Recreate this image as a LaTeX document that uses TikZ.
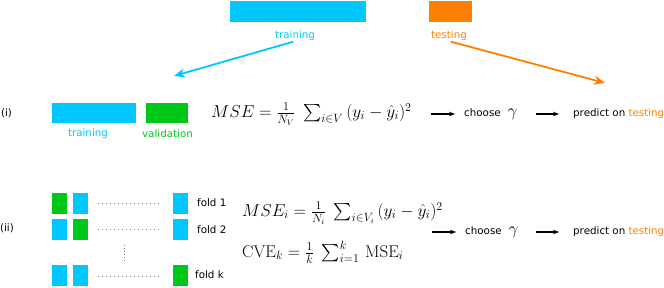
\documentclass[tikz,border=0pt]{standalone}
\usepackage{exscale}
\usepackage{fontspec}
\setsansfont{DejaVu Sans}
\usetikzlibrary{arrows.meta}
\definecolor{cvblue}{RGB}{0,200,255}
\definecolor{cvgreen}{RGB}{0,200,25}
\definecolor{cvorange}{RGB}{255,128,0}
\begin{document}
\begin{tikzpicture}[x=1pt, y=-1pt,
        txt/.style={font=\sffamily\fontsize{10.3}{12}\selectfont, inner sep=0pt},
        bar/.style={rectangle, fill=#1, inner sep=0pt, minimum height=21pt},
        fold/.style={rectangle, fill=#1, inner sep=0pt, minimum width=15pt, minimum height=21pt},
        formula/.style={font=\fontsize{17}{20}\selectfont, inner sep=0pt, anchor=west},
        arrow/.style={-{Stealth[length=6pt, width=4.5pt]}, line width=1.1pt},
        bigarrow/.style={-{Stealth[length=11pt, width=9pt]}, line width=1.8pt, draw=#1},
        dots/.style={gray, line width=0.8pt, dash pattern=on 0.8pt off 3.2pt}
    ]
        \useasboundingbox (0,0) rectangle (664,288);

        % Split into training and testing
        \node[bar=cvblue, minimum width=136pt] (train) at (298,11.5) {};
        \node[bar=cvorange, minimum width=43pt] (test) at (450.5,11.5) {};
        \node[txt, text=cvblue] (trainlbl) at (295,36) {training};
        \node[txt, text=cvorange] (testlbl) at (449,36) {testing};
        \coordinate (trainend) at (174,76);
        \coordinate (testend) at (605,83);
        \draw[bigarrow=cvblue, shorten <=2pt] (trainlbl.south) -- (trainend);
        \draw[bigarrow=cvorange, shorten <=2pt] (testlbl.south) -- (testend);

        % (i) validation set
        \node[txt] (rowi) at (6.5,113) {(i)};
        \node[bar=cvblue, minimum width=84pt, minimum height=20pt] (traini) at (94,113) {};
        \node[bar=cvgreen, minimum width=42pt, minimum height=20pt] (vali) at (167,113) {};
        \node[txt, text=cvblue] (trainilbl) at (88,134) {training};
        \node[txt, text=cvgreen] (valilbl) at (167.5,134) {validation};
        \node[formula] (msei) at (211,114) {$MSE = \frac{1}{N_V}\;\sum_{i\in V}\,(y_i-\hat{y}_i)^2$};
        \node[txt, anchor=west] (choosei) at (464,114) {choose\hspace{7pt}{\fontsize{18}{20}\selectfont$\gamma$}};
        \node[txt, anchor=west] (predi) at (573,114) {predict on \textcolor{cvorange}{testing}};
        \draw[arrow] ([xshift=-33pt]choosei.west) -- ([xshift=-9pt]choosei.west);
        \draw[arrow] ([xshift=-37pt]predi.west) -- ([xshift=-14pt]predi.west);

        % (ii) k-fold cross-validation
        \node[txt] (rowii) at (7,228) {(ii)};
        \node[fold=cvgreen] (fa1) at (59.5,203.5) {};
        \node[fold=cvblue] (fb1) at (80.5,203.5) {};
        \node[fold=cvblue] (fc1) at (180,203.5) {};
        \node[fold=cvblue] (fa2) at (59.5,229.5) {};
        \node[fold=cvgreen] (fb2) at (80.5,229.5) {};
        \node[fold=cvblue] (fc2) at (180,229.5) {};
        \node[fold=cvblue] (fak) at (59.5,276) {};
        \node[fold=cvblue] (fbk) at (80.5,276) {};
        \node[fold=cvgreen] (fck) at (180,276) {};
        \draw[dots, shorten <=10pt, shorten >=14pt] (fb1) -- (fc1);
        \draw[dots, shorten <=10pt, shorten >=14pt] (fb2) -- (fc2);
        \draw[dots, shorten <=10pt, shorten >=14pt] (fbk) -- (fck);
        \draw[dots, dash pattern=on 0.8pt off 2.2pt] (124,245) -- (124,261);
        \node[txt, anchor=west] (fold1) at (197,203) {fold 1};
        \node[txt, anchor=west] (fold2) at (197,229.5) {fold 2};
        \node[txt, anchor=west] (foldk) at (195,275) {fold k};

        \node[formula] (mseii) at (242,213) {$MSE_i = \frac{1}{N_i}\;\sum_{i\in V_i}\,(y_i-\hat{y}_i)^2$};
        \node[formula] (cveii) at (242,252) {$\mathrm{CVE}_k = \frac{1}{k}\;\sum_{i=1}^{k}\,\mathrm{MSE}_i$};
        \node[txt, anchor=west] (chooseii) at (465,232) {choose\hspace{7pt}{\fontsize{18}{20}\selectfont$\gamma$}};
        \node[txt, anchor=west] (predii) at (573,232) {predict on \textcolor{cvorange}{testing}};
        \draw[arrow] ([xshift=-33pt]chooseii.west) -- ([xshift=-9pt]chooseii.west);
        \draw[arrow] ([xshift=-37pt]predii.west) -- ([xshift=-14pt]predii.west);
    \end{tikzpicture}
\end{document}
